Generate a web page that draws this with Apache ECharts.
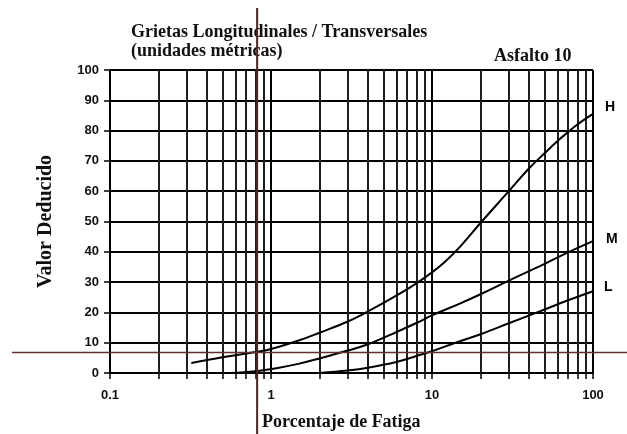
<!DOCTYPE html>
<html>
<head>
<meta charset="utf-8">
<script src="https://cdn.jsdelivr.net/npm/echarts@6/dist/echarts.min.js"></script>
<style>
  html, body { margin: 0; padding: 0; background: #fff; }
  #chart { width: 627px; height: 434px; }
</style>
</head>
<body>
<div id="chart"></div>
<script>
// Deduct-value curves for longitudinal / transverse cracking (asphalt)
const xLabelValues = [0.1, 1, 10, 100];
const xTickValues = [0.1, 0.2, 0.3, 0.4, 0.5, 0.6, 0.7, 0.8, 0.9,
                     1, 2, 3, 4, 5, 6, 7, 8, 9,
                     10, 20, 30, 40, 50, 60, 70, 80, 90, 100];
const xMinorGrid = [0.2, 0.3, 0.4, 0.5, 0.6, 0.7, 0.8, 0.9,
                    2, 3, 4, 5, 6, 7, 8, 9,
                    20, 30, 40, 50, 60, 70, 80, 90];

// Severity curves: [percentage, deduct value]
const curveH = [[0.32, 3.3], [0.5, 5.2], [0.82, 7.0], [1, 7.9], [1.5, 10.8], [2, 13.3],
                [3, 17], [4, 20.3], [6, 25.5], [8, 29.6], [10, 33.2], [12, 36.6],
                [15, 41.8], [20, 49.5], [30, 60], [40, 67.5], [50, 72.5], [60, 76.5],
                [70, 79.5], [80, 82], [100, 85.5]];
const curveM = [[0.55, 0], [0.8, 0.6], [1.08, 1.6], [1.5, 3.1], [2, 4.8], [3, 7.4],
                [4, 9.5], [6, 13.5], [8, 16.5], [10, 19], [15, 23], [20, 26],
                [30, 30.5], [50, 36], [70, 39.8], [100, 43.5]];
const curveL = [[2, 0], [3, 0.8], [4, 1.7], [6, 3.6], [8, 5.6], [10, 7.2],
                [14, 10], [20, 12.8], [30, 16.4], [45, 20], [70, 24], [100, 27]];
const curveNames = ['H', 'M', 'L'];

// Reading taken off the H curve
const readX = 0.82;
const readY = 6.8;

const serif = 'Liberation Serif';
const chart = echarts.init(document.getElementById('chart'), null, { renderer: 'canvas' });

function curveSeries(name, data, offset) {
  return {
    type: 'line',
    name: name,
    data: data,
    smooth: 0.4,
    showSymbol: false,
    symbol: 'none',
    lineStyle: { color: '#000', width: 2 },
    endLabel: {
      show: true,
      formatter: name,
      offset: offset,
      fontFamily: 'Liberation Sans',
      fontWeight: 'bold',
      fontSize: 14,
      color: '#000'
    },
    z: 5
  };
}

chart.setOption({
  animation: false,
  backgroundColor: '#fff',
  grid: { left: 110, right: 34, top: 70, bottom: 61, containLabel: false },
  title: [
    { text: 'Grietas Longitudinales / Transversales', left: 126, top: 18,
      textStyle: { fontFamily: serif, fontWeight: 'bold', fontSize: 18, color: '#111' } },
    { text: '(unidades métricas)', left: 126, top: 37,
      textStyle: { fontFamily: serif, fontWeight: 'bold', fontSize: 18, color: '#111' } },
    { text: 'Asfalto 10', left: 489, top: 42,
      textStyle: { fontFamily: serif, fontWeight: 'bold', fontSize: 18, color: '#111' } }
  ],
  xAxis: {
    type: 'log',
    logBase: 10,
    min: 0.1,
    max: 100,
    name: 'Porcentaje de Fatiga',
    nameLocation: 'start',
    nameGap: 0,
    nameTextStyle: {
      fontFamily: serif, fontWeight: 'bold', fontSize: 18, color: '#111',
      align: 'left', verticalAlign: 'top', padding: [40, 0, 0, 152]
    },
    axisLine: { show: true, lineStyle: { color: '#000', width: 2 } },
    axisTick: { show: true, length: 6, customValues: xTickValues, lineStyle: { color: '#000', width: 1.5 } },
    axisLabel: {
      customValues: xLabelValues,
      margin: 16,
      fontFamily: 'Liberation Sans', fontWeight: 'bold', fontSize: 13, color: '#111',
      formatter: v => String(v)
    },
    splitLine: { show: true, lineStyle: { color: '#000', width: 2 } },
    minorTick: { show: false },
    minorSplitLine: { show: false }
  },
  yAxis: {
    type: 'value',
    min: 0,
    max: 100,
    interval: 10,
    name: 'Valor Deducido',
    nameLocation: 'middle',
    nameGap: 54,
    nameRotate: 90,
    nameTextStyle: { fontFamily: serif, fontWeight: 'bold', fontSize: 20, color: '#111' },
    axisLine: { show: true, lineStyle: { color: '#000', width: 2 } },
    axisTick: { show: true, length: 6, lineStyle: { color: '#000', width: 1.5 } },
    axisLabel: {
      margin: 11,
      fontFamily: 'Liberation Sans', fontWeight: 'bold', fontSize: 13, color: '#111'
    },
    splitLine: { show: true, lineStyle: { color: '#000', width: 2 } }
  },
  series: [
    {
      type: 'line',
      name: 'grid',
      data: [],
      silent: true,
      markLine: {
        silent: true,
        symbol: 'none',
        animation: false,
        label: { show: false },
        lineStyle: { color: '#2a2a2a', width: 1.5, type: 'solid' },
        data: xMinorGrid.map(v => ({ xAxis: v }))
      },
      z: 2
    },
    curveSeries(curveNames[0], curveH, [4, -7]),
    curveSeries(curveNames[1], curveM, [5, -2]),
    curveSeries(curveNames[2], curveL, [3, -4])
  ]
});

// Reading guides through the chosen point on the H curve, running past the plot frame
const pt = chart.convertToPixel({ xAxisIndex: 0, yAxisIndex: 0 }, [readX, readY]);
chart.setOption({
  graphic: [
    { type: 'line', shape: { x1: pt[0], y1: 8, x2: pt[0], y2: 434 },
      style: { stroke: '#4a2626', lineWidth: 2 }, z: 100 },
    { type: 'line', shape: { x1: 12, y1: pt[1], x2: 627, y2: pt[1] },
      style: { stroke: '#5e3030', lineWidth: 1.5 }, z: 100 }
  ]
});
</script>
</body>
</html>
